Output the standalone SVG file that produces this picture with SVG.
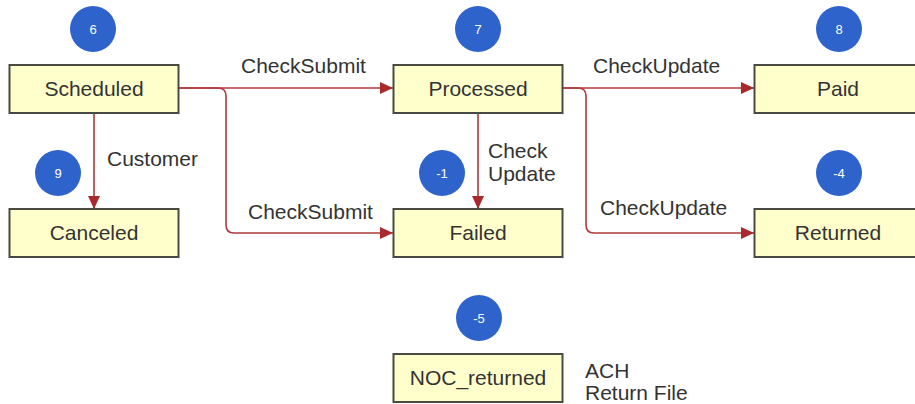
<svg xmlns="http://www.w3.org/2000/svg" width="915" height="404" viewBox="0 0 915 404">
<style>
.box{fill:#ffffcc;stroke:#4a4a44;stroke-width:2}
.lbl{font-family:"Liberation Sans",Arial,sans-serif;font-size:21px;fill:#333;text-anchor:middle}
.edge{font-family:"Liberation Sans",Arial,sans-serif;font-size:21px;fill:#333}
.badge{fill:#2f63cc}
.num{font-family:"Liberation Sans",Arial,sans-serif;font-size:13px;fill:#fff;text-anchor:middle}
.conn{fill:none;stroke:#b03a3e;stroke-width:1.6}
</style>
<defs>
<marker id="arr" markerUnits="userSpaceOnUse" markerWidth="14" markerHeight="12" refX="13" refY="6" orient="auto">
<path d="M0,0 L13,6 L0,12 Z" fill="#a82a2c"/>
</marker>
</defs>
<rect width="915" height="404" fill="#fff"/>
<g id="connectors">
<path class="conn" d="M179,88 H393" marker-end="url(#arr)"/>
<path class="conn" d="M179,88 H218 Q226,88 226,96 V225 Q226,233 234,233 H393" marker-end="url(#arr)"/>
<path class="conn" d="M94,113 V209" marker-end="url(#arr)"/>
<path class="conn" d="M478,113 V209" marker-end="url(#arr)"/>
<path class="conn" d="M563,88 H754" marker-end="url(#arr)"/>
<path class="conn" d="M563,88 H578 Q586,88 586,96 V225 Q586,233 594,233 H754" marker-end="url(#arr)"/>
<text class="edge" x="241" y="73">CheckSubmit</text>
<text class="edge" x="248" y="219">CheckSubmit</text>
<text class="edge" x="107" y="166">Customer</text>
<text class="edge" x="488" y="158">Check</text>
<text class="edge" x="488" y="181">Update</text>
<text class="edge" x="593" y="73">CheckUpdate</text>
<text class="edge" x="600" y="215">CheckUpdate</text>
</g>
<g id="scheduled">
<circle class="badge" cx="93" cy="29" r="23"/><text class="num" x="93" y="34">6</text>
<rect class="box" x="9.5" y="65" width="169" height="48"/><text class="lbl" x="94" y="96">Scheduled</text>
</g>
<g id="processed">
<circle class="badge" cx="478" cy="29" r="23"/><text class="num" x="478" y="34">7</text>
<rect class="box" x="393.5" y="65" width="169" height="48"/><text class="lbl" x="478" y="96">Processed</text>
</g>
<g id="paid">
<circle class="badge" cx="839" cy="29" r="23"/><text class="num" x="839" y="34">8</text>
<rect class="box" x="754.5" y="65" width="169" height="48"/><text class="lbl" x="838" y="96">Paid</text>
</g>
<g id="canceled">
<circle class="badge" cx="58" cy="173" r="23"/><text class="num" x="58" y="178">9</text>
<rect class="box" x="9.5" y="209" width="169" height="48"/><text class="lbl" x="94" y="240">Canceled</text>
</g>
<g id="failed">
<circle class="badge" cx="442" cy="173" r="23"/><text class="num" x="442" y="178">-1</text>
<rect class="box" x="393.5" y="209" width="169" height="48"/><text class="lbl" x="478" y="240">Failed</text>
</g>
<g id="returned">
<circle class="badge" cx="839" cy="173" r="23"/><text class="num" x="839" y="178">-4</text>
<rect class="box" x="754.5" y="209" width="169" height="48"/><text class="lbl" x="838" y="240">Returned</text>
</g>
<g id="noc_returned">
<circle class="badge" cx="479" cy="318" r="23"/><text class="num" x="479" y="323">-5</text>
<rect class="box" x="393.5" y="354" width="169" height="48"/><text class="lbl" x="478" y="385">NOC_returned</text>
<text class="edge" x="585" y="378">ACH</text>
<text class="edge" x="585" y="400">Return File</text>
</g>
</svg>
